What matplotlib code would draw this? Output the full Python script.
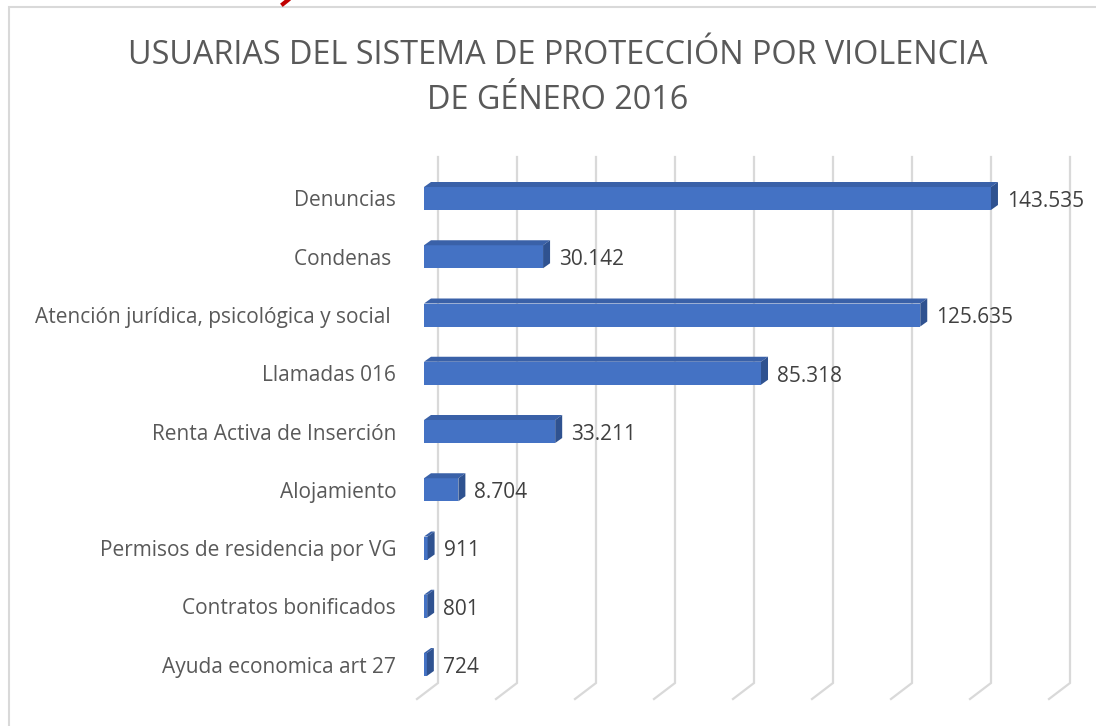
import numpy as np
import matplotlib.pyplot as plt
from matplotlib.patches import Polygon, Rectangle
from matplotlib.lines import Line2D

# data
categories = ['Denuncias', 'Condenas ', 'Atención jurídica, psicológica y social ',
              'Llamadas 016', 'Renta Activa de Inserción', 'Alojamiento',
              'Permisos de residencia por VG', 'Contratos bonificados', 'Ayuda economica art 27']
values = [143535, 30142, 125635, 85318, 33211, 8704, 911, 801, 724]
grid_values = [0, 20000, 40000, 60000, 80000, 100000, 120000, 140000, 160000]
title_lines = ['USUARIAS DEL SISTEMA DE PROTECCIÓN POR VIOLENCIA', 'DE GÉNERO 2016']

W, H = 1096, 726
plt.rcParams['font.family'] = ['Open Sans', 'DejaVu Sans']
fig = plt.figure(figsize=(W / 100, H / 100), dpi=100)

# pixel geometry of the excel-like 3d plot
ppu = 79 / 20000.0      # px per value unit
x0 = 424                # px of value 0 on bar front plane
y0 = 198.5              # px of first category centre
dy_cat = 58.25          # px between categories

ax_l, ax_r, ax_t, ax_b = 417, W, 140, 712
ax = fig.add_axes([ax_l / W, 1 - ax_b / H, (ax_r - ax_l) / W, (ax_b - ax_t) / H])
ax.set_xlim((ax_l - x0) / ppu, (ax_r - x0) / ppu)
ax.set_ylim((ax_b - y0) / dy_cat, (ax_t - y0) / dy_cat)
for s in ax.spines.values():
    s.set_visible(False)
ax.set_xticks([])
ax.set_yticks(range(len(categories)))
ax.set_yticklabels(categories, fontsize=15, color='#595959')
ax.tick_params(axis='y', length=0, pad=15)

# depth offsets (value units / category units)
back_dx = 14 / ppu
floor_dx = -7 / ppu
wall_top = (157 - y0) / dy_cat
wall_bot = (683 - y0) / dy_cat
floor_bot = (699 - y0) / dy_cat

grid_col = '#d9d9d9'
for g in grid_values:
    ax.plot([g + back_dx, g + back_dx, g + floor_dx], [wall_top, wall_bot, floor_bot],
            color=grid_col, lw=1.6, zorder=1, clip_on=False, solid_joinstyle='miter')

bar_h = 23 / dy_cat
depth_dx = 7 / ppu
depth_dy = 5 / dy_cat
front_col = '#4472c4'
top_col = '#3a61a8'
side_col = '#2f5290'

for i, v in enumerate(values):
    top = i - bar_h / 2
    bot = i + bar_h / 2
    ax.barh(i, v, height=bar_h, left=0, color=front_col, zorder=3)
    ax.add_patch(Polygon([(0, top), (depth_dx, top - depth_dy), (v + depth_dx, top - depth_dy), (v, top)],
                         closed=True, facecolor=top_col, edgecolor='none', zorder=3))
    ax.add_patch(Polygon([(v, top), (v + depth_dx, top - depth_dy), (v + depth_dx, bot - depth_dy), (v, bot)],
                         closed=True, facecolor=side_col, edgecolor='none', zorder=3))
    lab = f'{v:,}'.replace(',', '.')
    ax.text(v + 16 / ppu, i + 0.05, lab, fontsize=15, color='#404040', va='center', ha='left', zorder=4)

# title
fig.text(558 / W, 1 - 64 / H, title_lines[0], ha='center', va='baseline', fontsize=23.3,
         color='#595959')
fig.text(558 / W, 1 - 109 / H, title_lines[1], ha='center', va='baseline', fontsize=23.3,
         color='#595959')

# chart border
fig.patches.append(Rectangle((9 / W, -0.01), 1.02, 1 - 7 / H + 0.01, transform=fig.transFigure,
                             fill=False, edgecolor='#d9d9d9', lw=1.5))
# descender of red text cut off above the chart
fig.lines.append(Line2D([283 / W, 288 / W], [1 - 4 / H, 1.0], transform=fig.transFigure,
                        color='#c00000', lw=3))

fig.savefig('out.png', dpi=100)
